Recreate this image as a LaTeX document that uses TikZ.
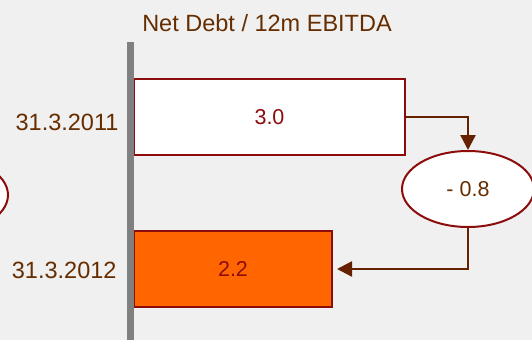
\documentclass[tikz,border=0pt]{standalone}
\usepackage{fontspec}
\setmainfont{Liberation Sans}
\usepackage{tikz}
\usetikzlibrary{arrows.meta,shapes.geometric}
\definecolor{bgray}{RGB}{240,240,240}
\definecolor{txtbrown}{RGB}{102,45,0}
\definecolor{boxred}{RGB}{140,12,12}
\definecolor{arrbrown}{RGB}{102,34,0}
\definecolor{barorange}{RGB}{255,102,0}

\begin{document}
\begin{tikzpicture}[x=1pt, y=-1pt,
    bar/.style={draw=boxred, line width=2pt, inner sep=0pt, minimum height=76pt,
        text=boxred, font=\fontsize{21.5}{26}\selectfont},
    change/.style={ellipse, draw=boxred, line width=2pt, fill=white, inner sep=0pt,
        minimum width=132pt, minimum height=76pt, text=txtbrown,
        font=\fontsize{21.5}{26}\selectfont},
    datelabel/.style={anchor=east, text=txtbrown, font=\fontsize{23.5}{28}\selectfont},
    conn/.style={draw=arrbrown, line width=2.4pt, -{Triangle[length=15pt,width=15pt]}}]
    \useasboundingbox (0,0) rectangle (532,340);
    \clip (0,0) rectangle (532,340);
    \fill[bgray] (0,0) rectangle (532,340);
    \node[text=txtbrown, font=\fontsize{23.5}{28}\selectfont] (title) at (267,23) {Net Debt / 12m EBITDA};
    \node[bar, fill=white, minimum width=271pt] (y2011) at (269.5,117) {3.0};
    \node[bar, fill=barorange, minimum width=198pt] (y2012) at (233,269) {2.2};
    \node[change] (delta) at (468,189) {- 0.8};
    \node[change] (prev) at (-58,195) {};
    \fill[gray] (127,42) rectangle (134,340);
    \node[datelabel] (d2011) at (122,122) {31.3.2011};
    \node[datelabel] (d2012) at (120,270) {31.3.2012};
    \draw[conn] (y2011.east) -| (delta.north);
    \draw[conn, shorten >=4pt] (delta.south) |- (y2012.east);
\end{tikzpicture}
\end{document}
